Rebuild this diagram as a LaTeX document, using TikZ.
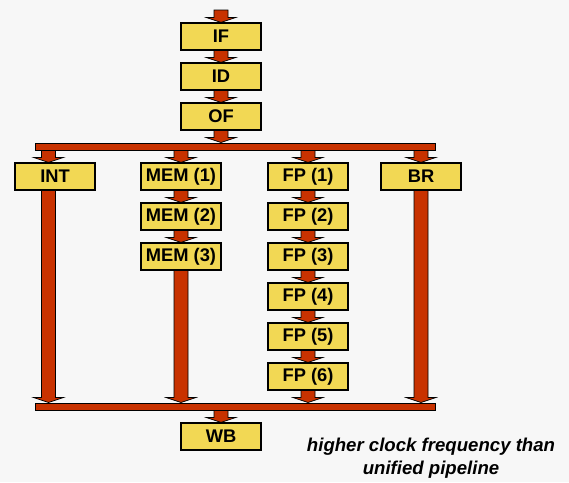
\documentclass[tikz,border=0pt]{standalone}
\usepackage{fontspec}
\setmainfont{Liberation Sans}
\usepackage{tikz}
\usetikzlibrary{positioning, calc}
\definecolor{stageyellow}{RGB}{242, 216, 84}
\definecolor{pipered}{RGB}{200, 50, 0}
\definecolor{slidegray}{RGB}{247, 247, 247}
\pgfdeclarelayer{background}
\pgfdeclarelayer{arrows}
\pgfsetlayers{background,arrows,main}

\tikzset{
  stage/.style={draw=black, line width=1.2pt, fill=stageyellow, minimum width=80pt,
                minimum height=27pt, inner sep=0pt, font=\fontsize{18.3}{18}\selectfont\bfseries},
  bus/.style={draw=black, line width=1pt, fill=pipered, minimum width=400pt,
              minimum height=7pt, inner sep=0pt},
  pipeline/.style={draw=black, line width=0.7pt, fill=pipered, line join=miter}
}
\newcommand{\pipearrow}[2]{%
  \draw[pipeline] let \p1=(#1), \p2=(#2) in
    (\x2-7pt,\y1) -- (\x2-7pt,\y2+5pt) -- (\x2-15pt,\y2+5pt) -- (\x2,\y2)
    -- (\x2+15pt,\y2+5pt) -- (\x2+7pt,\y2+5pt) -- (\x2+7pt,\y1) -- cycle;}

\begin{document}
\begin{tikzpicture}[x=1pt, y=-1pt]
  \begin{pgfonlayer}{background}
    \fill[slidegray] (0,0) rectangle (569,482);
  \end{pgfonlayer}
  \useasboundingbox (0,0) rectangle (569,482);

  \node[stage] (if) at (221,36.5) {IF};
  \node[stage] (id) at (221,76.5) {ID};
  \node[stage] (of) at (221,116.5) {OF};
  \node[bus] (topbus) at (235,146.5) {};
  \node[stage] (int) at (55,176.5) {INT};
  \node[stage] (mem1) at (181,176.5) {MEM (1)};
  \node[stage] (mem2) at (181,216.5) {MEM (2)};
  \node[stage] (mem3) at (181,256.5) {MEM (3)};
  \foreach \k in {1,...,6}{
    \node[stage] (fp\k) at (308,136.5+40*\k) {FP (\k)};
  }
  \node[stage] (br) at (421,176.5) {BR};
  \node[bus] (botbus) at (235,406.5) {};
  \node[stage] (wb) at (221,436.5) {WB};
  \coordinate (entry) at (221,10);
  \coordinate (intlane) at (48.5,176.5);

  \begin{pgfonlayer}{arrows}
    \pipearrow{entry}{if.north}
    \pipearrow{if.south}{id.north}
    \pipearrow{id.south}{of.north}
    \pipearrow{of.south}{topbus.north -| of.south}
    \pipearrow{topbus.south -| intlane}{int.north -| intlane}
    \pipearrow{topbus.south -| mem1}{mem1.north}
    \pipearrow{topbus.south -| fp1}{fp1.north}
    \pipearrow{topbus.south -| br}{br.north}
    \pipearrow{mem1.south}{mem2.north}
    \pipearrow{mem2.south}{mem3.north}
    \foreach \a/\b in {1/2,2/3,3/4,4/5,5/6}{
      \pipearrow{fp\a.south}{fp\b.north}
    }
    \pipearrow{int.south -| intlane}{botbus.north -| intlane}
    \pipearrow{mem3.south}{botbus.north -| mem3}
    \pipearrow{fp6.south}{botbus.north -| fp6}
    \pipearrow{br.south}{botbus.north -| br}
    \pipearrow{botbus.south -| wb}{wb.north}
  \end{pgfonlayer}

  \node[align=center, font=\fontsize{18.6}{23}\selectfont\bfseries\itshape] (note) at (431,458)
    {higher clock frequency than\\unified pipeline};
\end{tikzpicture}
\end{document}
